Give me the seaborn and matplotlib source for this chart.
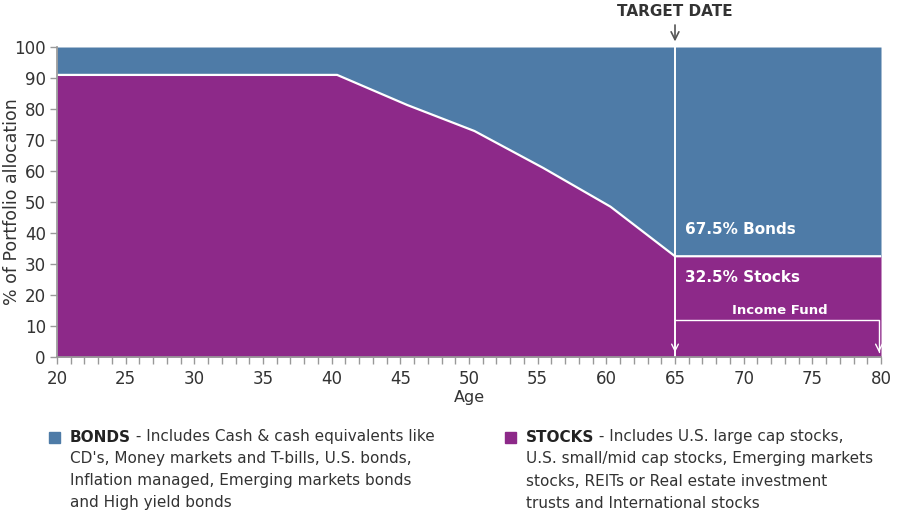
import matplotlib
matplotlib.use("Agg")
import matplotlib.pyplot as plt
from matplotlib.ticker import MultipleLocator
import seaborn as sns
import pandas as pd

# glide path
ages = [20, 40.4, 45.5, 50.4, 55.4, 60.3, 65, 80]
stocks = [91, 91, 81.3, 72.9, 61, 48.5, 32.5, 32.5]
bonds = [100 - s for s in stocks]

target_age = 65
end_age = 80
bond_label = "67.5% Bonds"
stock_label = "32.5% Stocks"

BLUE = "#4e7ba7"
PURPLE = "#8d2989"
TEXT = "#333333"
GRID = "#999999"

sns.set_theme(style="white")
plt.rcParams["font.family"] = ["DejaVu Sans"]

df = pd.DataFrame({"age": ages, "stocks": stocks, "bonds": bonds})

fig = plt.figure(figsize=(9, 5.3), dpi=100)
ax = fig.add_axes([0.0633, 0.3264, 0.9156, 0.5849])

ax.fill_between(df["age"], 0, df["stocks"], color=PURPLE, lw=0)
ax.fill_between(df["age"], df["stocks"], 100, color=BLUE, lw=0)
sns.lineplot(data=df, x="age", y="stocks", color="white", lw=1.6, ax=ax)
ax.axvline(target_age, color="white", lw=1.4)

ax.set_xlim(20, end_age)
ax.set_ylim(0, 100)
ax.xaxis.set_major_locator(MultipleLocator(5))
ax.xaxis.set_minor_locator(MultipleLocator(1))
ax.yaxis.set_major_locator(MultipleLocator(10))
ax.tick_params(axis="x", which="both", direction="out", length=5, width=1,
               color=GRID, bottom=True, labelsize=12, labelcolor=TEXT, pad=4)
ax.tick_params(axis="y", which="major", direction="out", length=5, width=1,
               color=GRID, left=True, labelsize=12, labelcolor=TEXT, pad=3)
for side in ["top", "right"]:
    ax.spines[side].set_visible(False)
for side in ["left", "bottom"]:
    ax.spines[side].set_color(GRID)
ax.set_xlabel("Age", fontsize=11.5, color=TEXT, labelpad=2)
ax.set_ylabel("% of Portfolio allocation", fontsize=12.5, color=TEXT)
ax.yaxis.set_label_coords(-0.044, 0.5)

# labels in the income phase
ax.text(65.7, 41, bond_label, color="white", fontsize=11,
        fontweight="bold", va="center")
ax.text(65.7, 25.5, stock_label, color="white", fontsize=11,
        fontweight="bold", va="center")
ax.text(72.6, 15, "Income Fund", color="white", fontsize=9.5,
        fontweight="bold", ha="center", va="center")
ax.plot([target_age, 79.85, 79.85], [11.9, 11.9, 1.5], color="white", lw=1)
ax.annotate("", xy=(79.85, 0.6), xytext=(79.85, 3.5),
            arrowprops=dict(arrowstyle="->", color="white", lw=1))
ax.annotate("", xy=(target_age, 0.6), xytext=(target_age, 3.5),
            arrowprops=dict(arrowstyle="->", color="white", lw=1))

# target date marker above the chart
ax.annotate("", xy=(target_age, 100.9), xycoords="data", xytext=(target_age, 108),
            arrowprops=dict(arrowstyle="->", color="#555555", lw=1.2,
                            mutation_scale=14), annotation_clip=False)
ax.text(target_age, 111.3, "TARGET DATE", ha="center", va="center", fontsize=11,
        fontweight="bold", color=TEXT, clip_on=False)

# legend blocks
legend = [
    (BLUE, 0.0544, "BONDS", [" - Includes Cash & cash equivalents like",
                             "CD's, Money markets and T-bills, U.S. bonds,",
                             "Inflation managed, Emerging markets bonds",
                             "and High yield bonds"]),
    (PURPLE, 0.5611, "STOCKS", [" - Includes U.S. large cap stocks,",
                                "U.S. small/mid cap stocks, Emerging markets",
                                "stocks, REITs or Real estate investment",
                                "trusts and International stocks"]),
]
line_h = 22 / 530
fs = 11
for color, x0, head, lines in legend:
    y0 = 1 - 437 / 530
    fig.patches.append(plt.Rectangle((x0, y0 - 0.0115), 0.0125, 0.0215,
                                     transform=fig.transFigure, color=color))
    tx = x0 + 0.023
    bold = fig.text(tx, y0, head, fontsize=fs, fontweight="bold",
                    color="#222222", va="center")
    ax.annotate(lines[0], xy=(1, 0.5), xycoords=bold, va="center", ha="left",
                fontsize=fs, color=TEXT, annotation_clip=False)
    for i, ln in enumerate(lines[1:], start=1):
        fig.text(tx, y0 - i * line_h, ln, fontsize=fs, color=TEXT, va="center")

fig.savefig("out.png", dpi=100)
